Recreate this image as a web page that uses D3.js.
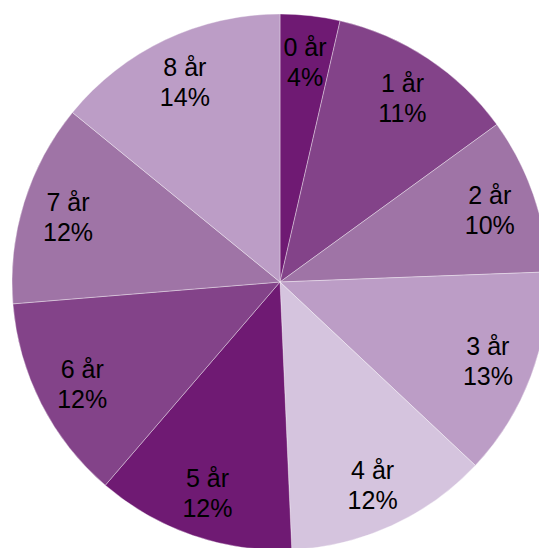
<!DOCTYPE html>
<html>
<head>
<meta charset="utf-8">
<script src="https://cdn.jsdelivr.net/npm/d3@7"></script>
<style>
  html, body { margin: 0; padding: 0; background: #ffffff; }
  svg { display: block; }
</style>
</head>
<body>
<svg id="chart" width="539" height="548"></svg>
<script>
const categories = ["0 år", "1 år", "2 år", "3 år", "4 år", "5 år", "6 år", "7 år", "8 år"];
const values = [3.6, 11.4, 9.4, 12.6, 12.3, 12.0, 12.4, 12.2, 14.1];
const percentLabels = ["4%", "11%", "10%", "13%", "12%", "12%", "12%", "12%", "14%"];
const palette = ["#6f1a73", "#834389", "#9f74a6", "#bc9dc6", "#d5c4de"];

const W = 539, H = 548;
const cx = 280, cy = 282, R = 268, labelR = 222;

const svg = d3.select("#chart");
const g = svg.append("g").attr("transform", `translate(${cx},${cy})`);

const data = categories.map((c, i) => ({ cat: c, value: values[i], pct: percentLabels[i], i }));

const pie = d3.pie().value(d => d.value).sort(null);
const arc = d3.arc().innerRadius(0).outerRadius(R);
const labelArc = d3.arc().innerRadius(labelR).outerRadius(labelR);
const color = d3.scaleOrdinal().domain(d3.range(9)).range(palette.concat(palette));

const arcs = pie(data);

g.selectAll("path.slice")
  .data(arcs)
  .enter().append("path")
  .attr("class", "slice")
  .attr("d", arc)
  .attr("fill", d => color(d.data.i))
  .attr("stroke", "#ffffff")
  .attr("stroke-opacity", 0.6)
  .attr("stroke-width", 0.6);

const labels = g.selectAll("text.lbl")
  .data(arcs)
  .enter().append("text")
  .attr("class", "lbl")
  .attr("transform", d => `translate(${labelArc.centroid(d)})`)
  .attr("text-anchor", "middle")
  .attr("font-family", "'Liberation Sans', Arial, Helvetica, sans-serif")
  .attr("font-size", 25)
  .attr("fill", "#000000");

labels.append("tspan").attr("x", 0).attr("y", -5).text(d => d.data.cat);
labels.append("tspan").attr("x", 0).attr("y", 25).text(d => d.data.pct);
</script>
</body>
</html>
